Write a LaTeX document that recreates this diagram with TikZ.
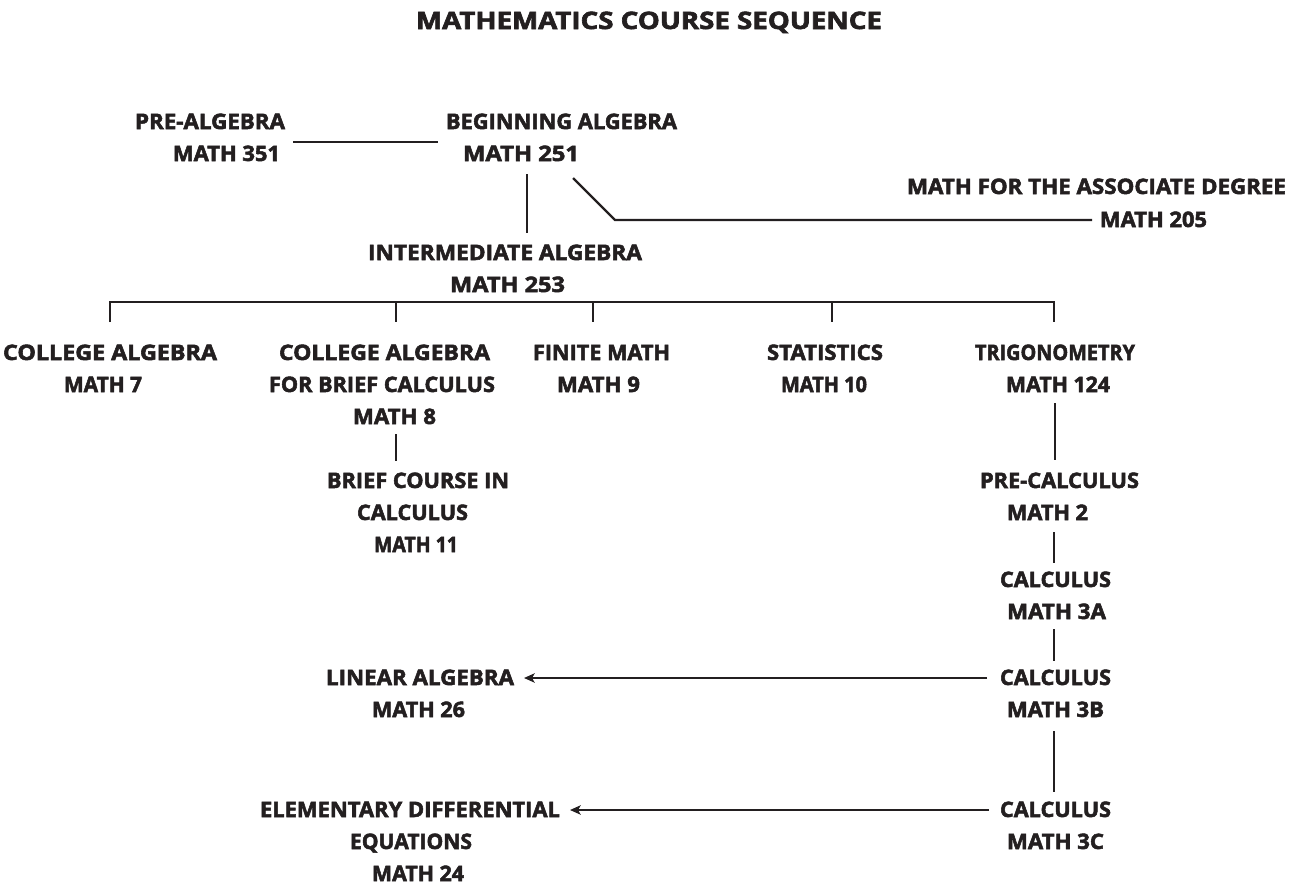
\documentclass[tikz,border=0pt]{standalone}
\usepackage{fontspec}
\setmainfont{Open Sans}[BoldFeatures={FakeBold=2.4}]
\usepackage{graphicx}
\usetikzlibrary{arrows.meta}
\definecolor{ink}{HTML}{231F20}
\newcommand\fw[2]{\resizebox{\dimexpr #1pt*3/4\relax}{\height}{#2}}
\begin{document}
\begin{tikzpicture}[x=0.75pt,y=-0.75pt,
  lbl/.style={inner sep=0pt,outer sep=0pt,anchor=base west,text=ink,
    font=\fontsize{16}{18}\selectfont\bfseries},
  ttl/.style={lbl,font=\fontsize{18}{20}\selectfont\bfseries},
  conn/.style={draw=ink,line width=1.6pt},
  arr/.style={conn,-{Stealth[length=8pt,width=7pt,inset=2pt]}}]
\fill[white] (0,0) rectangle (1300,886);
\useasboundingbox (0,0) rectangle (1300,886);
% title
\node[ttl] (title) at (416,29) {\fw{466}{MATHEMATICS COURSE SEQUENCE}};
% top
\node[lbl] (pa1) at (135,129) {\fw{150}{PRE-ALGEBRA}};
\node[lbl] (pa2) at (173,161) {\fw{107}{MATH 351}};
\node[lbl] (ba1) at (446,129) {\fw{231}{BEGINNING ALGEBRA}};
\node[lbl] (ba2) at (463,161) {\fw{116}{MATH 251}};
\node[lbl] (ad1) at (907,194) {\fw{379}{MATH FOR THE ASSOCIATE DEGREE}};
\node[lbl] (ad2) at (1100,227) {\fw{107}{MATH 205}};
\node[lbl] (ia1) at (368,260) {\fw{274}{INTERMEDIATE ALGEBRA}};
\node[lbl] (ia2) at (450,292) {\fw{115}{MATH 253}};
% row 1
\node[lbl] (ca1) at (3,360) {\fw{214}{COLLEGE ALGEBRA}};
\node[lbl] (ca2) at (64,392) {\fw{78}{MATH 7}};
\node[lbl] (cb1) at (279,360) {\fw{211}{COLLEGE ALGEBRA}};
\node[lbl] (cb2) at (269,392) {\fw{226}{FOR BRIEF CALCULUS}};
\node[lbl] (cb3) at (353,424) {\fw{83}{MATH 8}};
\node[lbl] (fm1) at (533,360) {\fw{137}{FINITE MATH}};
\node[lbl] (fm2) at (557,392) {\fw{83}{MATH 9}};
\node[lbl] (st1) at (767,360) {\fw{116}{STATISTICS}};
\node[lbl] (st2) at (781,392) {\fw{86}{MATH 10}};
\node[lbl] (tr1) at (975,360) {\fw{160}{TRIGONOMETRY}};
\node[lbl] (tr2) at (1006,392) {\fw{104}{MATH 124}};
% brief course
\node[lbl] (bc1) at (327,488) {\fw{182}{BRIEF COURSE IN}};
\node[lbl] (bc2) at (357,520) {\fw{111}{CALCULUS}};
\node[lbl] (bc3) at (374,552) {\fw{84}{MATH 11}};
% right column
\node[lbl] (pc1) at (980,488) {\fw{159}{PRE-CALCULUS}};
\node[lbl] (pc2) at (1007,520) {\fw{81}{MATH 2}};
\node[lbl] (ka1) at (1000,587) {\fw{111}{CALCULUS}};
\node[lbl] (ka2) at (1007,619) {\fw{99}{MATH 3A}};
\node[lbl] (kb1) at (1000,685) {\fw{111}{CALCULUS}};
\node[lbl] (kb2) at (1007,717) {\fw{97}{MATH 3B}};
\node[lbl] (kc1) at (1000,817) {\fw{111}{CALCULUS}};
\node[lbl] (kc2) at (1007,849) {\fw{97}{MATH 3C}};
% left lower
\node[lbl] (la1) at (326,685) {\fw{188}{LINEAR ALGEBRA}};
\node[lbl] (la2) at (372,717) {\fw{93}{MATH 26}};
\node[lbl] (ed1) at (260,817) {\fw{300}{ELEMENTARY DIFFERENTIAL}};
\node[lbl] (ed2) at (350,849) {\fw{122}{EQUATIONS}};
\node[lbl] (ed3) at (372,881) {\fw{92}{MATH 24}};
% connector points
\coordinate (paR) at (293,142); \coordinate (baL) at (438,142);
\coordinate (baD) at (527,174); \coordinate (iaU) at (527,233);
\coordinate (baS) at (573,178); \coordinate (bend) at (615,220); \coordinate (adL) at (1092,220);
\coordinate (bL) at (110,302); \coordinate (bR) at (1054,302);
\coordinate (t1) at (110,322); \coordinate (t2) at (396,322); \coordinate (t3) at (593,322);
\coordinate (t4) at (832,322); \coordinate (t5) at (1054,322);
\coordinate (m8D) at (396,434); \coordinate (bcU) at (396,461);
\coordinate (trD) at (1055,403); \coordinate (pcU) at (1055,460);
\coordinate (pcD) at (1054,532); \coordinate (kaU) at (1054,563);
\coordinate (kaD) at (1054,629); \coordinate (kbU) at (1054,661);
\coordinate (kbD) at (1054,731); \coordinate (kcU) at (1054,792);
\coordinate (kbL) at (987,678); \coordinate (laR) at (524,678);
\coordinate (kcL) at (989,810); \coordinate (edR) at (570,810);
% connectors
\draw[conn] (paR) -- (baL);
\draw[conn] (baD) -- (iaU);
\draw[conn] (baS) -- (bend) -- (adL);
\draw[conn] (t1) -- (bL) -- (bR) -- (t5);
\draw[conn] (t2 |- bL) -- (t2);
\draw[conn] (t3 |- bL) -- (t3);
\draw[conn] (t4 |- bL) -- (t4);
\draw[conn] (m8D) -- (bcU);
\draw[conn] (trD) -- (pcU);
\draw[conn] (pcD) -- (kaU);
\draw[conn] (kaD) -- (kbU);
\draw[conn] (kbD) -- (kcU);
\draw[arr] (kbL) -- (laR);
\draw[arr] (kcL) -- (edR);
\end{tikzpicture}
\end{document}
